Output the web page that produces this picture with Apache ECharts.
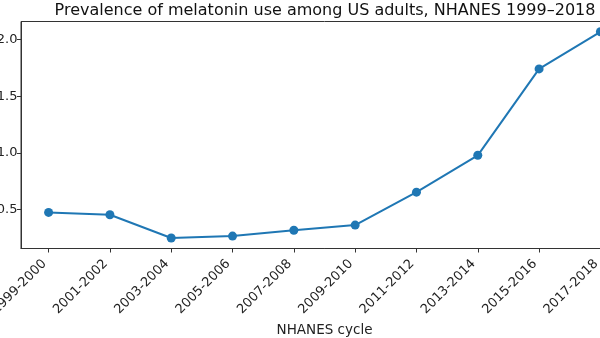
<!DOCTYPE html>
<html>
<head>
<meta charset="utf-8">
<script src="https://cdn.jsdelivr.net/npm/echarts@6/dist/echarts.min.js"></script>
<style>
html,body{margin:0;padding:0;overflow:hidden;background:#fff;width:600px;height:338px;}
#chart{position:absolute;left:0;top:0;width:650px;height:338px;}
</style>
</head>
<body>
<div id="chart"></div>
<script>
const cycles = ["1999-2000","2001-2002","2003-2004","2005-2006","2007-2008","2009-2010","2011-2012","2013-2014","2015-2016","2017-2018"];
const prevalence = [0.473, 0.452, 0.247, 0.264, 0.315, 0.361, 0.652, 0.978, 1.742, 2.07];
const yTicks = [0.5, 1.0, 1.5, 2.0];
const titleText = "Prevalence of melatonin use among US adults, NHANES 1999\u20132018";
const xName = "NHANES cycle";

const idx = cycles.map((c, i) => i);
const seriesData = prevalence.map((v, i) => [i, v]);
const font = "DejaVu Sans";

const chart = echarts.init(document.getElementById('chart'), null, {renderer: 'canvas'});
chart.setOption({
  animation: false,
  backgroundColor: '#ffffff',
  title: {
    text: titleText,
    left: 'center',
    top: -2,
    textStyle: {fontFamily: font, fontSize: 16, fontWeight: 'normal', color: '#111'}
  },
  grid: {
    left: 21, right: 22, top: 21.5, bottom: 89.5,
    containLabel: false,
    outerBoundsMode: 'none',
    show: true, borderColor: '#333', borderWidth: 1, backgroundColor: 'transparent'
  },
  xAxis: {
    type: 'value',
    min: -0.45, max: 9.45,
    name: xName,
    nameLocation: 'middle',
    nameGap: 71,
    nameTextStyle: {fontFamily: font, fontSize: 13.5, color: '#222'},
    axisLine: {show: true, onZero: false, lineStyle: {color: '#333', width: 1}},
    axisTick: {show: true, length: 4, customValues: idx, lineStyle: {color: '#333'}},
    axisLabel: {
      customValues: idx,
      rotate: 45,
      margin: 9,
      padding: [0, 6, 0, 0],
      fontFamily: font, fontSize: 13, color: '#222',
      formatter: v => cycles[Math.round(v)]
    },
    splitLine: {show: false}
  },
  yAxis: {
    type: 'value',
    min: 0.154, max: 2.161,
    axisLine: {show: true, onZero: false, lineStyle: {color: '#333', width: 1}},
    axisTick: {show: true, length: 4, customValues: yTicks, lineStyle: {color: '#333'}},
    axisLabel: {
      customValues: yTicks,
      margin: 3.5,
      fontFamily: font, fontSize: 13, color: '#222',
      formatter: v => v.toFixed(1)
    },
    splitLine: {show: false}
  },
  series: [{
    type: 'line',
    data: seriesData,
    symbol: 'circle',
    symbolSize: 9,
    itemStyle: {color: '#1f77b4'},
    lineStyle: {color: '#1f77b4', width: 2},
    clip: false
  }]
});
</script>
</body>
</html>
